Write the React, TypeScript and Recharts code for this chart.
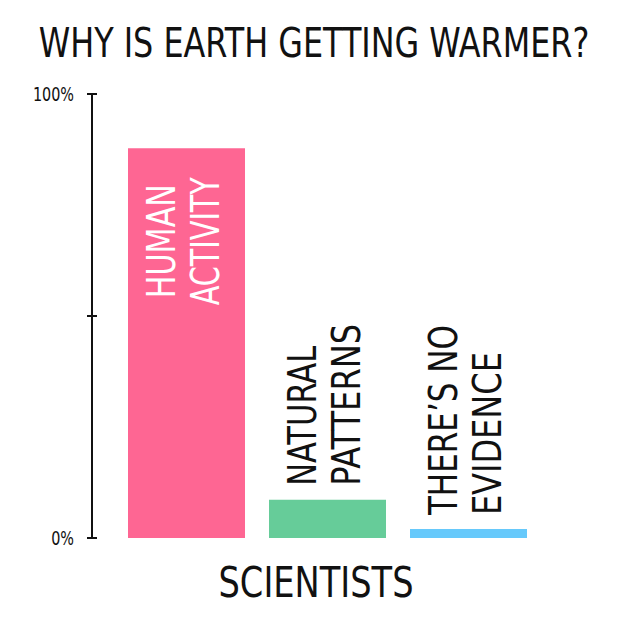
import { BarChart, Bar, XAxis, YAxis, Cell, LabelList } from "recharts";

const categories = ["HUMAN ACTIVITY", "NATURAL PATTERNS", "THERE’S NO EVIDENCE"];
const labelLines = [
  ["HUMAN", "ACTIVITY"],
  ["NATURAL", "PATTERNS"],
  ["THERE’S NO", "EVIDENCE"],
];
const shares = [87.8, 8.6, 2.0];
const yTicks = [0, 50, 100];
const yTickLabels = ["0%", "", "100%"];

// hand-lettered widths of each label line in the original, in px
const lineWidths = [
  [114, 128],
  [140, 162],
  [190, 163],
];
const colors = ["#fe6693", "#66cc99", "#66c9fb"];
const FONT = "'DejaVu Sans Condensed', 'Liberation Sans Narrow', 'Open Sans', sans-serif";

const data = categories.map((name, i) => ({ name, share: shares[i] }));

function YTick(props: any) {
  const { x, y, payload } = props;
  const idx = yTicks.indexOf(payload.value);
  const label = idx >= 0 ? yTickLabels[idx] : "";
  return (
    <g>
      <line x1={x - 5} x2={x + 5} y1={y} y2={y} stroke="#111" strokeWidth={2} />
      {label && (
        <text
          transform={`translate(${x - 18},${y + 7}) scale(1,1.2)`}
          textAnchor="end"
          fontSize={16}
          fontFamily={FONT}
          fill="#111"
        >
          {label}
        </text>
      )}
    </g>
  );
}

function BarLabel(props: any) {
  const { x, y, width, height, value } = props;
  const idx = categories.indexOf(value);
  const lines = labelLines[idx] || [String(value)];
  const cx = x + width / 2;
  const inside = height > 150;
  const by = inside ? y + 93 : y - 14;
  const offsets = [-11.5, 32.5];
  return (
    <g>
      {lines.map((line, i) => (
        <text
          key={i}
          transform={`translate(${cx + offsets[i]},${by}) rotate(-90)`}
          textAnchor={inside ? "middle" : "start"}
          fontSize={39}
          fontFamily={FONT}
          fill={inside ? "#fff" : "#111"}
          textLength={lineWidths[idx]?.[i]}
          lengthAdjust="spacingAndGlyphs"
        >
          {line}
        </text>
      ))}
    </g>
  );
}

export default function App() {
  return (
    <div style={{ position: "absolute", left: 0, top: 0, width: 625, height: 625, background: "#fff" }}>
      <BarChart width={625} height={625} data={data} margin={{ top: 94, right: 63, bottom: 87, left: 32 }}>
        <XAxis
          dataKey="name"
          tick={false}
          tickLine={false}
          height={0}
          padding={{ left: 24, right: 23 }}
          axisLine={{ stroke: "#111", strokeWidth: 2 }}
        />
        <YAxis
          domain={[0, 100]}
          ticks={yTicks}
          width={60}
          tickLine={false}
          tickSize={0}
          tickMargin={0}
          tick={<YTick />}
          axisLine={{ stroke: "#111", strokeWidth: 2 }}
          interval={0}
        />
        <Bar dataKey="share" barSize={117} isAnimationActive={false}>
          {data.map((d, i) => (
            <Cell key={d.name} fill={colors[i]} />
          ))}
          <LabelList dataKey="name" content={<BarLabel />} />
        </Bar>
      </BarChart>
      <svg width={625} height={625} style={{ position: "absolute", left: 0, top: 0, pointerEvents: "none" }}>
        <text
          transform="translate(314,57) scale(1,1.15)"
          textAnchor="middle"
          fontSize={35.4}
          fontFamily={FONT}
          fill="#111"
        >
          WHY IS EARTH GETTING WARMER?
        </text>
        <text
          x={316}
          y={597}
          textAnchor="middle"
          fontSize={42}
          fontFamily={FONT}
          fill="#111"
          textLength={195}
          lengthAdjust="spacingAndGlyphs"
        >
          SCIENTISTS
        </text>
      </svg>
    </div>
  );
}
